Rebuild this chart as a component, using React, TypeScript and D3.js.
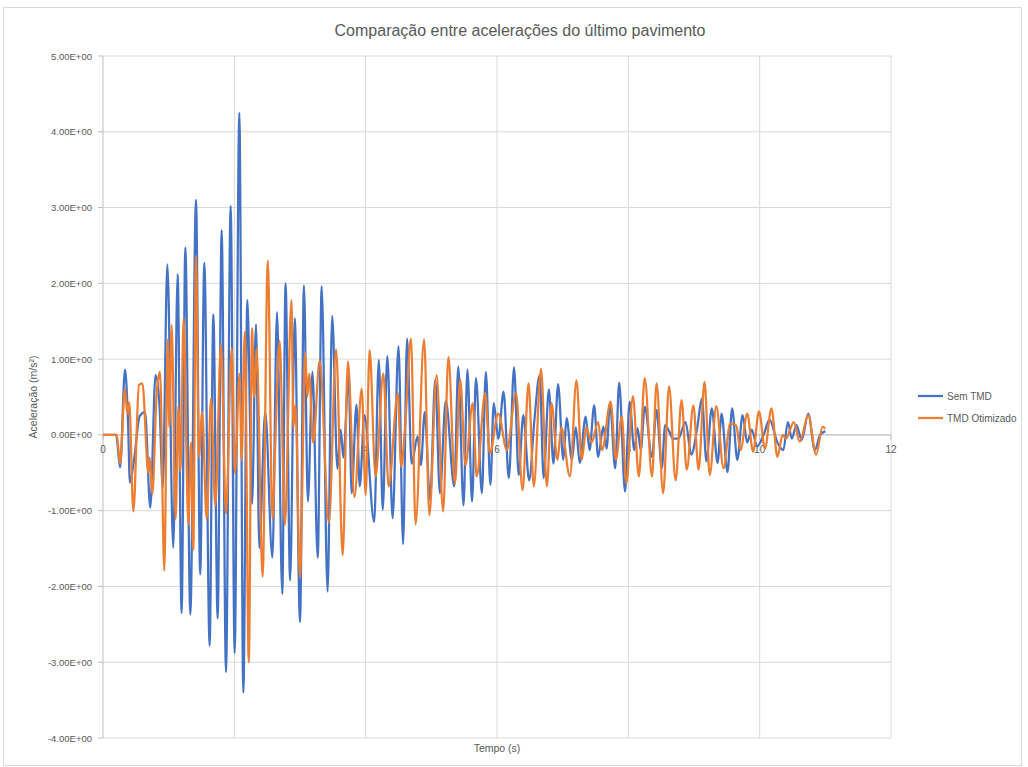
import React from 'react';
import * as d3 from 'd3';

// time (s) and acceleration (m/s²), peak by peak
const semTmdTime = [
  0, 0.2, 0.26, 0.335, 0.38, 0.41, 0.47, 0.56, 0.64, 0.72, 0.8, 0.86, 0.91, 0.98, 1.07, 1.137, 1.197, 1.254,
  1.33, 1.416, 1.48, 1.543, 1.624, 1.68, 1.746, 1.807, 1.873, 1.944, 2.005, 2.076, 2.137, 2.198, 2.27, 2.33,
  2.38, 2.47, 2.58, 2.65, 2.73, 2.78, 2.85, 2.92, 3.0, 3.06, 3.12, 3.19, 3.27, 3.33, 3.42, 3.49, 3.57, 3.62,
  3.66, 3.74, 3.787, 3.86, 3.91, 3.98, 4.13, 4.2, 4.26, 4.33, 4.41, 4.5, 4.57, 4.63, 4.7, 4.79, 4.84, 4.9,
  4.98, 5.06, 5.13, 5.22, 5.35, 5.41, 5.49, 5.55, 5.62, 5.68, 5.77, 5.83, 5.9, 5.95, 6.02, 6.1, 6.18, 6.26,
  6.33, 6.4, 6.49, 6.57, 6.65, 6.71, 6.79, 6.86, 6.93, 7.01, 7.06, 7.14, 7.2, 7.26, 7.35, 7.41, 7.48, 7.54,
  7.62, 7.67, 7.72, 7.8, 7.86, 7.95, 8.02, 8.09, 8.14, 8.19, 8.25, 8.36, 8.43, 8.51, 8.56, 8.62, 8.68, 8.76,
  8.87, 8.96, 9.05, 9.12, 9.19, 9.27, 9.36, 9.42, 9.51, 9.58, 9.66, 9.74, 9.81, 9.88, 9.96, 10.06, 10.15,
  10.27, 10.36, 10.43, 10.49, 10.56, 10.64, 10.74, 10.84, 10.92, 11.0,
];
const semTmdAcc = [
  0, 0, -0.43, 0.86, 0.2, -0.63, -0.35, 0.25, 0.3, -0.96, 0.79, 0.4, -0.7, 2.25, -1.49, 2.12, -2.35, 2.47,
  -2.37, 3.1, -1.84, 2.27, -2.78, 1.59, -2.42, 2.7, -3.13, 3.02, -2.88, 4.25, -3.4, 1.78, -0.91, 1.46,
  -1.49, 0.3, -1.62, 1.62, -2.1, 2.0, -1.92, 1.54, -2.47, 1.97, -0.88, 0.83, -1.62, 1.96, -2.07, 1.57, -0.45, 0.07,
  -0.3, 0.78, -0.77, 0.4, -0.68, 0.26, -1.15, 0.99, -0.99, 1.04, -1.1, 1.17, -1.44, 1.27, -0.38, -0.02, -0.4, 0.3,
  -0.86, 0.73, -0.77, 0.45, -0.68, 0.9, -0.93, 0.86, -0.88, 0.75, -0.77, 0.83, -0.66, 0.42, -0.05, 0.57, -0.57, 0.89,
  -0.53, 0.26, -0.6, 0.2, 0.79, -0.57, 0.6, -0.38, 0.67, -0.33, 0.22, -0.33, 0.1, -0.37, 0.24, -0.2, 0.39, -0.29,
  0.11, -0.18, 0.42, -0.44, 0.69, -0.75, 0.44, -0.2, 0.09, -0.2, 0.37, -0.29, 0.33, -0.44, 0.13, 0.05, -0.05, -0.05,
  0.17, -0.26, 0.1, 0.48, -0.35, 0.35, -0.37, 0.28, -0.49, 0.35, -0.33, 0.26, -0.1, 0.07, -0.15, 0.0, 0.2,
  -0.1, -0.2, 0.17, -0.05, 0.13, -0.07, 0.28, -0.2, 0.0, 0.05,
];

const tmdTime = [
  0, 0.21, 0.26, 0.335, 0.37, 0.4, 0.462, 0.548, 0.6, 0.69, 0.71, 0.75, 0.82, 0.868, 0.934, 0.985, 1.01, 1.045,
  1.106, 1.147, 1.18, 1.228, 1.3, 1.34, 1.375, 1.416, 1.46, 1.51, 1.579, 1.645, 1.71, 1.797, 1.873, 1.96, 2.01,
  2.08, 2.11, 2.16, 2.22, 2.27, 2.3, 2.34, 2.43, 2.51, 2.58, 2.62, 2.69, 2.77, 2.87, 2.9, 2.93, 3.0, 3.08, 3.11,
  3.14, 3.2, 3.3, 3.44, 3.55, 3.65, 3.73, 3.83, 3.94, 4.0, 4.06, 4.15, 4.27, 4.35, 4.49, 4.54, 4.6, 4.69, 4.76,
  4.89, 4.97, 5.08, 5.18, 5.26, 5.36, 5.44, 5.52, 5.63, 5.69, 5.82, 5.89, 6.02, 6.15, 6.29, 6.39, 6.48, 6.56,
  6.67, 6.76, 6.83, 6.92, 6.98, 7.11, 7.21, 7.29, 7.36, 7.44, 7.54, 7.6, 7.73, 7.81, 7.9, 7.97, 8.07, 8.16, 8.25,
  8.36, 8.43, 8.53, 8.62, 8.72, 8.81, 8.89, 8.99, 9.07, 9.16, 9.24, 9.34, 9.45, 9.55, 9.64, 9.71, 9.81, 9.9,
  9.99, 10.08, 10.18, 10.27, 10.35, 10.4, 10.52, 10.61, 10.74, 10.86, 10.96, 11.0,
];
const tmdAcc = [
  0, 0, -0.38, 0.61, 0.28, 0.43, -1.01, 0.66, 0.68, -0.5, -0.3, -0.78, 0.58, 0.83, -1.79, 1.26, 0.1, 1.45,
  -1.11, 0.38, -0.48, 1.54, -1.19, -0.1, -1.52, 2.36, -0.3, 0.3, -1.11, 0.48, -0.93, 1.19, -1.04, 1.14, -0.5,
  0.81, -0.33, 1.36, -3.0, 1.41, 0.5, 1.14, -1.87, 2.3, -1.11, -0.2, 1.24, -1.19, 1.78, 0.1, 0.4, -1.89, 1.09, 0.5,
  0.81, -0.1, 0.98, -1.16, 1.13, -1.59, 0.97, -0.82, 0.61, -0.79, 1.12, -0.55, 0.81, -0.68, 0.55, -0.42, 0.1, 1.27, -1.18,
  1.26, -1.06, 0.79, -1.01, 1.03, -0.64, 0.73, -0.4, 0.42, -0.55, 0.55, -0.24, 0.28, -0.2, 0.55, -0.73, 0.68, -0.68,
  0.87, -0.68, 0.42, -0.33, 0.1, -0.55, 0.72, -0.33, 0.1, -0.1, 0.17, -0.2, 0.44, -0.33, 0.24, -0.64, 0.51, -0.55, 0.75,
  -0.55, 0.68, -0.77, 0.64, -0.6, 0.46, -0.46, 0.39, -0.46, 0.7, -0.53, 0.38, -0.44, 0.15, 0.13, -0.2, 0.28, -0.22,
  0.31, -0.18, 0.35, -0.29, 0.0, -0.05, 0.17, -0.09, 0.26, -0.26, 0.11, 0.08,
];

const seriesNames = ['Sem TMD', 'TMD Otimizado'];
const seriesColors = ['#4472C4', '#ED7D31'];
const xTicks = [0, 2, 4, 6, 8, 10, 12];
const yTicks = [-4, -3, -2, -1, 0, 1, 2, 3, 4, 5];

const W = 1028;
const H = 767;
const font = '"Liberation Sans", Arial, sans-serif';

export default function App() {
  const x = d3.scaleLinear().domain([0, 12]).range([103, 891]);
  const y = d3.scaleLinear().domain([-4, 5]).range([738, 56]);

  const line = d3
    .line<[number, number]>()
    .x(d => x(d[0]))
    .y(d => y(d[1]))
    .curve(d3.curveMonotoneX);

  const series = [
    semTmdTime.map((t, i) => [t, semTmdAcc[i]] as [number, number]),
    tmdTime.map((t, i) => [t, tmdAcc[i]] as [number, number]),
  ];

  const fmt = (v: number) => v.toExponential(2).replace('e', 'E').replace(/E([+-])(\d)$/, 'E$10$2');

  return (
    <svg width={W} height={H} style={{ position: 'absolute', left: 0, top: 0, background: '#fff' }} fontFamily={font}>
      <rect x={3.5} y={7.5} width={1018} height={758} fill="#fff" stroke="#D9D9D9" />
      <text x={520} y={36} textAnchor="middle" fontSize={16} fill="#595959">
        Comparação entre acelerações do último pavimento
      </text>

      {/* gridlines */}
      {yTicks.map(t => (
        <line key={'gy' + t} x1={x(0)} x2={x(12)} y1={y(t)} y2={y(t)} stroke="#D9D9D9" />
      ))}
      {xTicks.slice(1).map(t => (
        <line key={'gx' + t} x1={x(t)} x2={x(t)} y1={y(5)} y2={y(-4)} stroke="#D9D9D9" />
      ))}

      {/* axes */}
      <line x1={x(0)} x2={x(0)} y1={y(5)} y2={y(-4)} stroke="#BFBFBF" />
      {yTicks.map(t => (
        <line key={'ty' + t} x1={x(0) - 5} x2={x(0)} y1={y(t)} y2={y(t)} stroke="#BFBFBF" />
      ))}
      <line x1={x(0)} x2={x(12)} y1={y(0)} y2={y(0)} stroke="#BFBFBF" />
      {xTicks.map(t => (
        <line key={'tx' + t} x1={x(t)} x2={x(t)} y1={y(0)} y2={y(0) + 5} stroke="#BFBFBF" />
      ))}

      {yTicks.map(t => (
        <text key={'ly' + t} x={92} y={y(t) + 3.5} textAnchor="end" fontSize={9.5} fill="#595959">
          {fmt(t)}
        </text>
      ))}
      {xTicks.map(t => (
        <text key={'lx' + t} x={x(t)} y={y(0) + 18} textAnchor="middle" fontSize={10} fill="#595959">
          {t}
        </text>
      ))}

      <text x={497} y={752} textAnchor="middle" fontSize={10.5} fill="#595959">
        Tempo (s)
      </text>
      <text
        transform={`translate(37, ${(y(5) + y(-4)) / 2}) rotate(-90)`}
        textAnchor="middle"
        fontSize={10.5}
        fill="#595959"
      >
        Aceleração (m/s²)
      </text>

      {series.map((d, i) => (
        <path key={seriesNames[i]} d={line(d) || ''} fill="none" stroke={seriesColors[i]} strokeWidth={2.25} strokeLinejoin="round" />
      ))}

      {seriesNames.map((n, i) => (
        <g key={'lg' + n} transform={`translate(918, ${396 + i * 22})`}>
          <line x1={0} x2={25} y1={0} y2={0} stroke={seriesColors[i]} strokeWidth={2.25} />
          <text x={29} y={3.5} fontSize={10} fill="#595959">
            {n}
          </text>
        </g>
      ))}
    </svg>
  );
}
